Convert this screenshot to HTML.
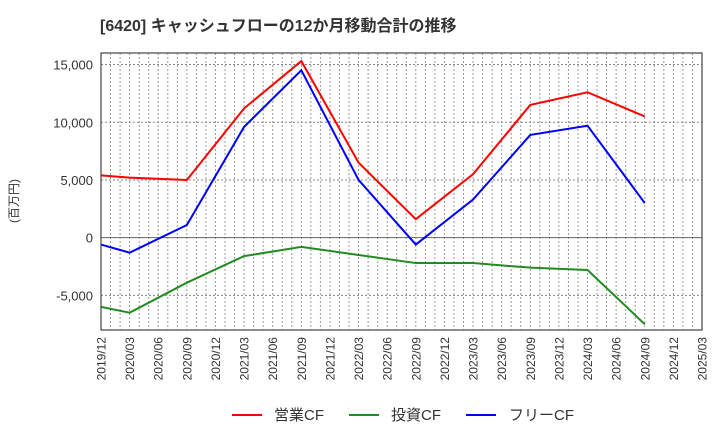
<!DOCTYPE html>
<html><head><meta charset="utf-8"><style>
body{margin:0;background:#fff;}
svg{display:block;font-family:"Liberation Sans","Noto Sans CJK JP",sans-serif;}
</style></head><body>
<svg id="chart" width="720" height="440">
<text x="100" y="31" font-size="16" font-weight="bold" fill="#333">[6420]  キャッシュフローの12か月移動合計の推移</text>
<text transform="translate(18,201) rotate(-90)" font-size="12" fill="#333" text-anchor="middle">(百万円)</text>
<g id="grid"></g>
<g id="series"></g>
<rect x="101" y="53" width="601" height="277" fill="none" stroke="#444" stroke-width="1.2"/>
<g id="legend" font-size="15" fill="#333">
<line x1="232" y1="415" x2="262" y2="415" stroke="#f00" stroke-width="2"/>
<text x="274" y="420">営業CF</text>
<line x1="349" y1="415" x2="379" y2="415" stroke="#228b22" stroke-width="2"/>
<text x="391" y="420">投資CF</text>
<line x1="466" y1="415" x2="496" y2="415" stroke="#00f" stroke-width="2"/>
<text x="509" y="420">フリーCF</text>
</g>
</svg>
<script>
const periods=["2019/12","2020/03","2020/09","2021/03","2021/09","2022/03","2022/09","2023/03","2023/09","2024/03","2024/09"];
const operatingCF=[5400,5200,5000,11200,15300,6500,1600,5500,11500,12600,10500];
const investingCF=[-6000,-6500,-3900,-1600,-800,-1500,-2200,-2200,-2600,-2800,-7500];
const freeCF=[-600,-1300,1100,9600,14500,5000,-600,3300,8900,9700,3000];
const yTicks=[-5000,0,5000,10000,15000];
const xLabels=["2019/12","2020/03","2020/06","2020/09","2020/12","2021/03","2021/06","2021/09","2021/12","2022/03","2022/06","2022/09","2022/12","2023/03","2023/06","2023/09","2023/12","2024/03","2024/06","2024/09","2024/12","2025/03"];
const NS="http://www.w3.org/2000/svg";
const L=101,R=702,T=53,B=330,yMin=-8000,yMax=16000;
function mIdx(s){const [y,m]=s.split("/").map(Number);return (y-2019)*12+m-12;}
const totalM=mIdx("2025/03");
function xs(s){return L+(R-L)*mIdx(s)/totalM;}
function ys(v){return B-(B-T)*(v-yMin)/(yMax-yMin);}
const grid=document.getElementById("grid");
function mk(tag,attrs,parent){const e=document.createElementNS(NS,tag);for(const k in attrs)e.setAttribute(k,attrs[k]);parent.appendChild(e);return e;}
for(let m=1;m<totalM;m++){
  const x=L+(R-L)*m/totalM;
  const l=mk("line",{x1:x,x2:x,y1:T,y2:B,stroke:"#999","stroke-dasharray":"2,2","stroke-width":1},grid);
  
  
}
yTicks.forEach(v=>{
  const y=ys(v);
  const l=mk("line",{x1:L,x2:R,y1:y,y2:y,stroke:v===0?"#666":"#888","stroke-dasharray":v===0?"":"2,2","stroke-width":1},grid);
  
  
  const t=mk("text",{x:L-8,y:y+5,"text-anchor":"end","font-size":13,fill:"#333"},grid);
  t.textContent=v.toLocaleString("en-US");
  
  
});
xLabels.forEach(s=>{
  const x=xs(s);
  const t=mk("text",{transform:`translate(${x+4.5},337) rotate(-90)`,"text-anchor":"end","font-size":12,fill:"#333"},grid);
  t.textContent=s;
  
  
});
const ser=document.getElementById("series");
[[operatingCF,"#f00","operating-cf-line"],[investingCF,"#228b22","investing-cf-line"],[freeCF,"#00f","free-cf-line"]].forEach(([d,c,n])=>{
  const p=mk("polyline",{points:d.map((v,i)=>xs(periods[i])+","+ys(v)).join(" "),fill:"none",stroke:c,"stroke-width":2},ser);
  
  
});
</script>
</body></html>
